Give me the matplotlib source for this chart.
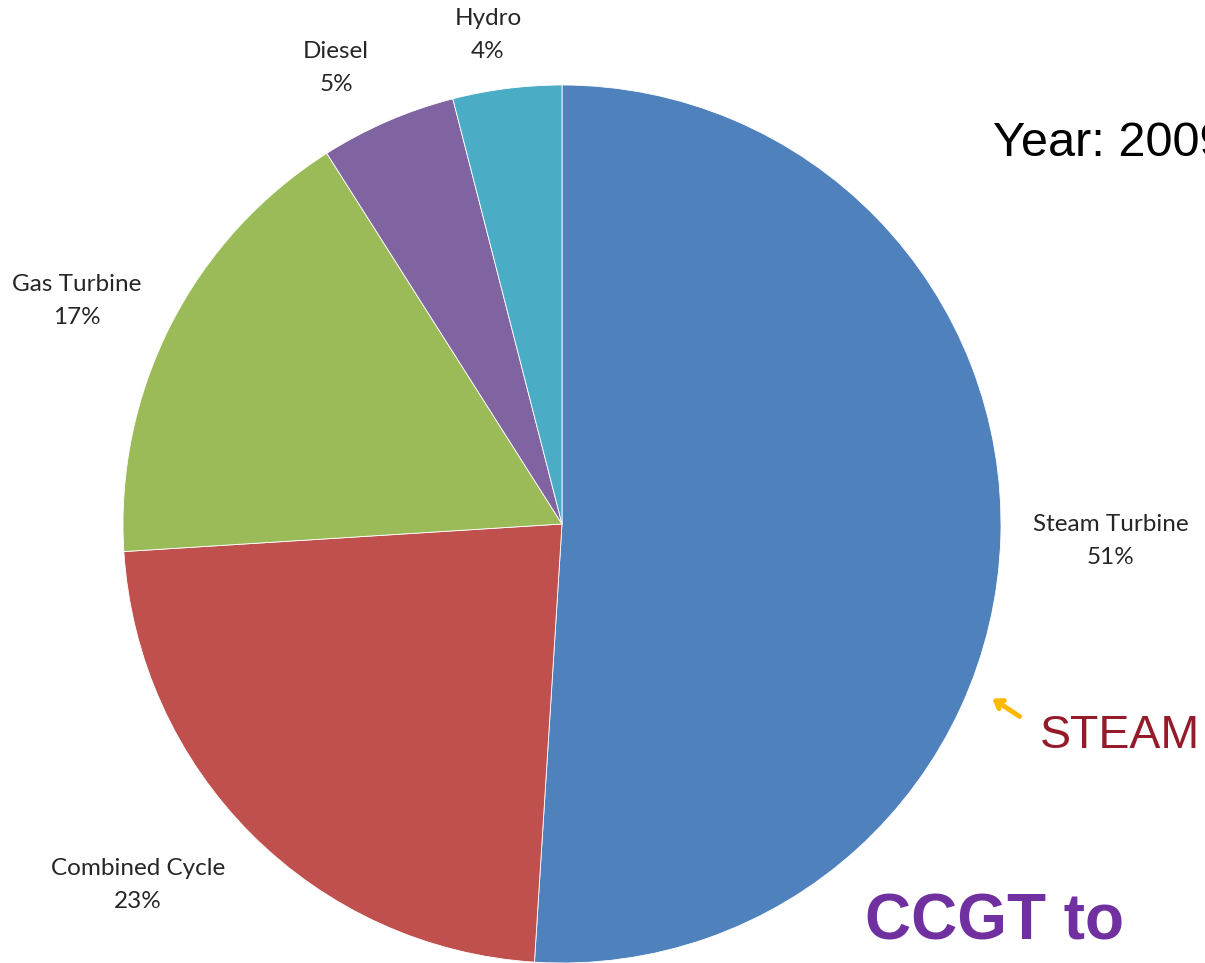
import matplotlib
matplotlib.use("Agg")
import matplotlib.pyplot as plt

# Generation mix by technology
categories = ["Steam Turbine", "Combined Cycle", "Gas Turbine", "Diesel", "Hydro"]
shares = [51, 23, 17, 5, 4]
colors = ["#4F81BD", "#C0504D", "#9BBB59", "#8064A2", "#4BACC6"]

W, H = 1205, 963
fig = plt.figure(figsize=(W / 100, H / 100), dpi=100)
ax = fig.add_axes([0, 0, 1, 1])

def Y(y):
    # convert a top-down pixel row into the axes' upward coordinate
    return H - y

cx, cy, r = 562, Y(524), 439
ax.pie(shares, colors=colors, startangle=90, counterclock=False,
       center=(cx, cy), radius=r,
       wedgeprops=dict(edgecolor="white", linewidth=0.6))
ax.set_xlim(0, W)
ax.set_ylim(0, H)
ax.set_aspect("equal")
ax.axis("off")

# data labels placed outside each slice
label_xy = [(1111, 541), (138, 885), (77, 301), (336, 68), (488, 35)]
for name, val, (lx, ly) in zip(categories, shares, label_xy):
    ax.text(lx, Y(ly), f"{name}\n{val}%", ha="center", va="center",
            fontsize=17.5, family="Lato", color="#262626", linespacing=1.65)

ax.text(993, Y(143), "Year: 2009", ha="left", va="center",
        fontsize=35, family="Liberation Sans", color="black", clip_on=False)
ax.text(1040, Y(736), "STEAM", ha="left", va="center",
        fontsize=33.5, family="Liberation Sans", color="#951B2A")
ax.text(865, Y(922), "CCGT to", ha="left", va="center",
        fontsize=46, family="Liberation Sans", fontweight="bold", color="#7030A0")

ax.annotate("", xy=(990, Y(697)), xytext=(1022, Y(718)),
            arrowprops=dict(arrowstyle="->,head_length=0.5,head_width=0.35",
                            color="#FFB800", lw=3.5))

fig.savefig("out.png", dpi=100)
